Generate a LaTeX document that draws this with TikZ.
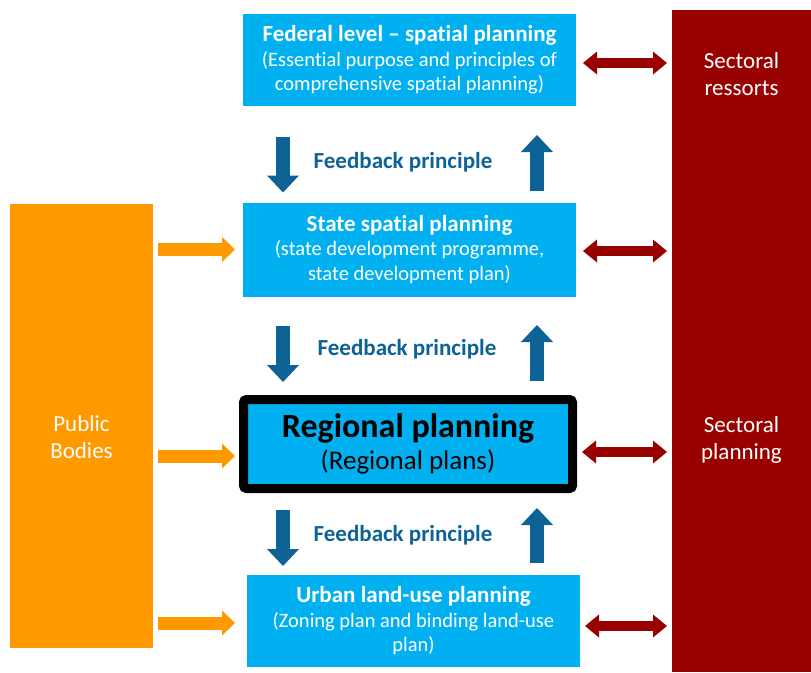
\documentclass[tikz,border=0pt]{standalone}
\usepackage{fontspec}
\setmainfont{Carlito}[Ligatures={TeX,NoCommon}]
\usepackage{tikz}
\usetikzlibrary{calc,arrows.meta}
\usepackage{xcolor}
\definecolor{planblue}{RGB}{0,176,240}
\definecolor{sectred}{RGB}{153,0,0}
\definecolor{pborange}{RGB}{255,153,0}
\definecolor{fbblue}{RGB}{14,99,150}

\tikzset{
  levelbox/.style={fill=planblue, text=white, align=center, inner sep=0pt, outer sep=0pt,
    minimum width=333pt, font=\fontsize{20.5}{24.5}\selectfont},
  regbox/.style={fill=planblue, draw=black, line width=9pt, rounded corners=3pt, align=center,
    inner sep=0pt, minimum width=329pt, minimum height=89pt},
  sidebox/.style={inner sep=0pt, outer sep=0pt},
  sidetext/.style={text=white, align=center, font=\fontsize{23}{27.5}\selectfont},
  fbtext/.style={text=fbblue, font=\fontsize{23}{24}\selectfont\bfseries},
  fbarrow/.style={draw=fbblue, line width=14pt, -{Triangle[length=17pt,width=32pt,line width=0pt]}},
  pbarrow/.style={draw=pborange, line width=13pt, -{Triangle[length=13pt,width=25pt,line width=0pt]}},
  secarrow/.style={draw=sectred, line width=10pt,
    {Triangle[length=14pt,width=23pt,line width=0pt]}-{Triangle[length=14pt,width=23pt,line width=0pt]}}
}
\newcommand{\lvltitle}[1]{{\fontsize{23}{24.5}\selectfont\bfseries #1}}

\begin{document}
\begin{tikzpicture}[x=1pt,y=-1pt]
\useasboundingbox (0,0) rectangle (811,672);

% side columns
\node [sidebox, fill=pborange, minimum width=143pt, minimum height=444pt] (pub) at (81.5,426) {};
\node [sidetext] (pubtxt) at (81.5,437) {Public\\Bodies};
\node [sidebox, fill=sectred, minimum width=139pt, minimum height=662pt] (sect) at (741.5,341) {};
\node [sidetext] (sectres) at (741.5,74) {Sectoral\\ressorts};
\node [sidetext] (sectplan) at (741.5,440) {Sectoral\\planning};

% planning levels
\node [levelbox, minimum height=92pt] (fed) at (409.5,60)
  {\lvltitle{Federal level – spatial planning}\\(Essential purpose and principles of\\comprehensive spatial planning)};
\node [levelbox, minimum height=94pt] (state) at (409.5,249.5)
  {\lvltitle{State spatial planning}\\(state development programme,\\state development plan)};
\node [regbox] (reg) at (408,444)
  {{\fontsize{34}{36}\selectfont\bfseries Regional planning}\\[6pt]{\fontsize{27}{30}\selectfont (Regional plans)}};
\node [levelbox, minimum height=92pt] (urban) at (413.5,621)
  {\lvltitle{Urban land-use planning}\\(Zoning plan and binding land-use\\plan)};

% feedback arrows
\coordinate (dn) at (283,0);
\coordinate (up) at (537,0);
\draw [fbarrow, shorten <=31pt, shorten >=10pt] (fed.south -| dn) -- (state.north -| dn);
\draw [fbarrow, shorten <=12pt, shorten >=29pt] (state.north -| up) -- (fed.south -| up);
\node [fbtext] (fb1) at (403,162) {Feedback principle};
\draw [fbarrow, shorten <=29.5pt, shorten >=13pt] (state.south -| dn) -- (reg.north -| dn);
\draw [fbarrow, shorten <=14pt, shorten >=28.5pt] (reg.north -| up) -- (state.south -| up);
\node [fbtext] (fb2) at (407,349) {Feedback principle};
\draw [fbarrow, shorten <=17pt, shorten >=9pt] (reg.south -| dn) -- (urban.north -| dn);
\draw [fbarrow, shorten <=12pt, shorten >=15pt] (urban.north -| up) -- (reg.south -| up);
\node [fbtext] (fb3) at (403,535) {Feedback principle};

% public bodies
\draw [pbarrow, shorten <=5pt, shorten >=8pt] (pub.east |- state.west) -- (state.west);
\draw [pbarrow, shorten <=5pt, shorten >=4pt] ($(pub.east |- reg.west)+(0,12)$) -- ($(reg.west)+(0,12)$);
\draw [pbarrow, shorten <=5pt, shorten >=12pt] ($(pub.east |- urban.west)+(0,2)$) -- ($(urban.west)+(0,2)$);

% sectoral planning
\draw [secarrow, shorten <=7pt, shorten >=5pt] ($(fed.east)+(0,3)$) -- ($(sect.west |- fed.east)+(0,3)$);
\draw [secarrow, shorten <=7pt, shorten >=5pt] ($(state.east)+(0,1.5)$) -- ($(sect.west |- state.east)+(0,1.5)$);
\draw [secarrow, shorten <=5pt, shorten >=5pt] ($(reg.east)+(0,8)$) -- ($(sect.west |- reg.east)+(0,8)$);
\draw [secarrow, shorten <=5pt, shorten >=5pt] ($(urban.east)+(0,5)$) -- ($(sect.west |- urban.east)+(0,5)$);
\end{tikzpicture}
\end{document}
